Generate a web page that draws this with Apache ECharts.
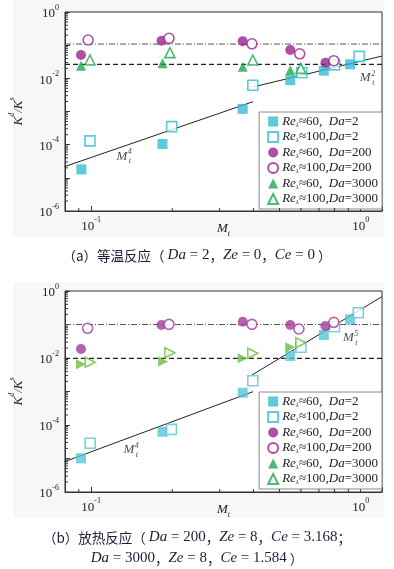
<!DOCTYPE html>
<html>
<head>
<meta charset="utf-8">
<script src="https://cdn.jsdelivr.net/npm/echarts@6/dist/echarts.min.js"></script>
<style>
  html, body { margin: 0; padding: 0; background: #fff; }
  #chart { width: 394px; height: 569px; }
</style>
</head>
<body>
<div id="chart"></div>
<script>
// ---- data: [M_t, K^d/K^s] ----
// (a) isothermal
const isoRe60Da2 = [[0.092, 1.8e-5], [0.184, 1.05e-4], [0.365, 1.2e-3], [0.548, 8.8e-3], [0.73, 1.7e-2], [0.914, 2.65e-2]];
const isoRe100Da2 = [[0.099, 1.3e-4], [0.199, 3.5e-4], [0.398, 6.2e-3], [0.605, 1.48e-2], [0.8, 2.55e-2], [0.987, 4.6e-2]];
const isoRe60Da200 = [[0.0917, 0.0506], [0.1825, 0.136], [0.365, 0.132], [0.548, 0.0715], [0.74, 0.0296]];
const isoRe100Da200 = [[0.0975, 0.143], [0.1945, 0.161], [0.395, 0.11], [0.594, 0.055], [0.795, 0.034]];
const isoRe60Da3000 = [[0.0917, 0.024], [0.184, 0.0283], [0.365, 0.0225], [0.548, 0.0175]];
const isoRe100Da3000 = [[0.099, 0.0357], [0.196, 0.0594], [0.398, 0.0357], [0.6, 0.02]];
const isoDashDot = [[0.08, 0.108], [1.2, 0.108]];
const isoDashed = [[0.08, 0.0265], [1.2, 0.0265]];
const isoFitM4 = [[0.0796, 2.17e-5], [0.399, 1.98e-3]];
const isoFitM2 = [[0.399, 5.5e-3], [1.2, 0.047]];

// (b) exothermic
const exoRe60Da2 = [[0.0917, 1.01e-5], [0.184, 6.3e-5], [0.365, 9.2e-4], [0.548, 0.0115], [0.73, 0.0486], [0.914, 0.1426]];
const exoRe100Da2 = [[0.0992, 2.84e-5], [0.1986, 7.4e-5], [0.398, 2.1e-3], [0.6, 0.0209], [0.8, 0.086], [0.98, 0.225]];
const exoRe60Da200 = [[0.0917, 0.0186], [0.1825, 0.0966], [0.365, 0.1215], [0.548, 0.0966], [0.74, 0.09]];
const exoRe100Da200 = [[0.097, 0.0769], [0.1945, 0.101], [0.395, 0.101], [0.59, 0.0734], [0.795, 0.116]];
const exoRe60Da3000 = [[0.0917, 0.0065], [0.185, 0.0078], [0.365, 0.0098], [0.548, 0.0209]];
const exoRe100Da3000 = [[0.0992, 0.0075], [0.196, 0.0144], [0.398, 0.0138], [0.6, 0.0286]];
const exoDashDot = [[0.08, 0.1], [1.2, 0.1]];
const exoDashed = [[0.08, 0.0098], [1.2, 0.0098]];
const exoFitM4 = [[0.0796, 8e-6], [0.399, 9.9e-4]];
const exoFitM5 = [[0.395, 3.1e-3], [1.2, 0.68]];

// slope annotations: [x, y, exponent]
const isoNotes = [[0.13, 4.3e-5, '4'], [1.04, 0.0102, '2']];
const exoNotes = [[0.138, 1.8e-5, '4'], [0.9, 0.0395, '5']];

const seriesNames = ['r60d2', 'r100d2', 'r60d200', 'r100d200', 'r60d3000', 'r100d3000'];
const legendRe = ['≈60,  ', '≈100,', '≈60,  ', '≈100,', '≈60,  ', '≈100,'];
const legendDa = ['=2', '=2', '=200', '=200', '=3000', '=3000'];

// axis furniture
const xMinorTicks = [0.09, 0.2, 0.3, 0.4, 0.5, 0.6, 0.7, 0.8, 0.9];
const minorMantissa = [2, 3, 4, 5, 6, 7, 8, 9];
const yDecades = [1e-6, 1e-5, 1e-4, 1e-3, 1e-2, 1e-1];

const SERIF = "'Liberation Serif', 'DejaVu Serif', serif";
const CJK = "'Noto Sans CJK SC', sans-serif";
const INK = '#222';

const supRich = {
  b: { fontFamily: SERIF, fontSize: 13, color: INK, lineHeight: 17, verticalAlign: 'bottom' },
  s: { fontFamily: SERIF, fontSize: 8, color: INK, lineHeight: 8, verticalAlign: 'top' }
};

function decadeLabel(v, evenOnly) {
  const e = Math.round(Math.log10(v));
  if (Math.abs(Math.log10(v) - e) > 1e-6) return '';
  if (evenOnly && e % 2 !== 0) return '';
  return '{b|10}{s|' + e + '}';
}

function makeAxes(gi) {
  const x = {
    type: 'log', logBase: 10, gridIndex: gi, min: 0.08, max: 1.2,
    axisLine: { lineStyle: { color: '#333', width: 1 } },
    axisTick: { inside: true, length: 5, lineStyle: { color: '#333' } },
    splitLine: { show: false },
    axisLabel: { interval: 0, margin: 5, formatter: (v) => decadeLabel(v, false), rich: supRich },
    name: '{m|M}{t|t}', nameLocation: 'middle', nameGap: 11, nameMoveOverlap: false,
    nameTextStyle: {
      rich: {
        m: { fontFamily: SERIF, fontStyle: 'italic', fontSize: 13, color: INK, lineHeight: 16, verticalAlign: 'top' },
        t: { fontFamily: SERIF, fontStyle: 'italic', fontSize: 8, color: INK, lineHeight: 8, verticalAlign: 'bottom' }
      }
    }
  };
  const y = {
    type: 'log', logBase: 10, gridIndex: gi, min: 1e-6, max: 1,
    axisLine: { lineStyle: { color: '#333', width: 1 } },
    axisTick: { inside: true, length: 5, lineStyle: { color: '#333' } },
    splitLine: { show: false },
    axisLabel: { interval: 0, margin: 6, formatter: (v) => decadeLabel(v, true), rich: supRich },
    name: '{k|K}{s|d}{k|/K}{s|s}', nameLocation: 'middle', nameGap: 40, nameRotate: 90,
    nameMoveOverlap: false,
    nameTextStyle: {
      rich: {
        k: { fontFamily: SERIF, fontStyle: 'italic', fontSize: 13, color: INK, lineHeight: 17, verticalAlign: 'bottom' },
        s: { fontFamily: SERIF, fontStyle: 'italic', fontSize: 8, color: INK, lineHeight: 8, verticalAlign: 'top' }
      }
    }
  };
  return [x, y];
}

function scatter(gi, name, data, symbol, color, hollow, rotate) {
  return {
    type: 'scatter', name: name, xAxisIndex: gi, yAxisIndex: gi, data: data,
    symbol: symbol, symbolSize: 10, symbolRotate: rotate || 0, z: 10,
    itemStyle: hollow
      ? { color: '#fff', borderColor: color, borderWidth: 1.6 }
      : { color: color }
  };
}

function refLine(gi, data, type, color, width) {
  return {
    type: 'line', xAxisIndex: gi, yAxisIndex: gi, data: data, symbol: 'none',
    silent: true, z: 3, lineStyle: { color: color, width: width, type: type }
  };
}

function minorTicks(gi, data, alongX) {
  return {
    type: 'custom', xAxisIndex: gi, yAxisIndex: gi, data: data, silent: true, z: 6,
    renderItem: function (params, api) {
      const p = api.coord([api.value(0), api.value(1)]);
      const q = alongX ? [p[0], p[1] - 3] : [p[0] + 3, p[1]];
      return {
        type: 'line',
        shape: { x1: p[0], y1: p[1], x2: q[0], y2: q[1] },
        style: { stroke: '#333', lineWidth: 1 }
      };
    }
  };
}

function notes(gi, list) {
  const data = [];
  list.forEach((n) => {
    data.push({ value: [n[0], n[1]], label: { formatter: '{m|M}', offset: [0, 0] } });
    data.push({ value: [n[0], n[1]], label: { formatter: '{s|' + n[2] + '}\n{s|t}', offset: [8, 0] } });
  });
  return {
    type: 'scatter', xAxisIndex: gi, yAxisIndex: gi, data: data, symbolSize: 0,
    silent: true, z: 8,
    label: {
      show: true, position: 'inside',
      rich: {
        m: { fontFamily: SERIF, fontStyle: 'italic', fontSize: 13, color: INK },
        s: { fontFamily: SERIF, fontStyle: 'italic', fontSize: 8, color: INK, lineHeight: 9 }
      }
    }
  };
}

function legendFor(top) {
  return {
    data: seriesNames, orient: 'vertical', right: 12, top: top,
    itemWidth: 10, itemHeight: 10, itemGap: 2, symbolRotate: 0,
    padding: [3, 4, 3, 8], backgroundColor: '#fff', borderColor: '#888', borderWidth: 1,
    selectedMode: false,
    formatter: (name) => {
      const i = seriesNames.indexOf(name);
      return '{i|Re}{l|λ}{n|' + legendRe[i] + '}{i|Da}{n|' + legendDa[i] + '}';
    },
    textStyle: {
      padding: [0, 0, 0, -1],
      rich: {
        i: { fontFamily: SERIF, fontStyle: 'italic', fontSize: 13, color: INK, lineHeight: 14 },
        l: { fontFamily: SERIF, fontStyle: 'italic', fontSize: 7, color: INK, lineHeight: 7, verticalAlign: 'bottom' },
        n: { fontFamily: SERIF, fontSize: 13, color: INK, lineHeight: 14 }
      }
    }
  };
}

const CAP = '#1d1d3a';
const capRich = {
  c: { fontFamily: CJK, fontSize: 13.5, fontWeight: 'normal', color: CAP },
  i: { fontFamily: SERIF, fontStyle: 'italic', fontSize: 15, fontWeight: 'normal', color: CAP },
  n: { fontFamily: SERIF, fontSize: 15, fontWeight: 'normal', color: CAP }
};
const capStyle = { fontWeight: 'normal', rich: capRich };

const axesA = makeAxes(0);
const axesB = makeAxes(1);
const ticksY = [];
yDecades.forEach((d) => minorMantissa.forEach((m) => ticksY.push([0.08, m * d])));
const ticksX = xMinorTicks.map((v) => [v, 1e-6]);

const CYAN = '#35bdd2', PURPLE = '#98248f', GREEN = '#1ea84b';
const CYAN_B = '#58c5d6', PURPLE_B = '#a53a9b', GREEN_B = '#6cbd3e';

const chart = echarts.init(document.getElementById('chart'));
chart.setOption({
  animation: false,
  backgroundColor: '#fff',
  graphic: [
    { type: 'rect', z: -10, shape: { x: 13, y: 0, width: 371, height: 237 }, style: { fill: '#f7f7f7' } },
    { type: 'rect', z: -10, shape: { x: 13, y: 282, width: 371, height: 236 }, style: { fill: '#f7f7f7' } }
  ],
  title: [
    {
      left: 'center', top: 243, textStyle: capStyle,
      text: '{c|（a）等温反应（ }{i|Da}{n| = 2}{c|，}{i|Ze}{n| = 0}{c|，}{i|Ce}{n| = 0}{c| ）}'
    },
    {
      left: 'center', top: 525, textStyle: capStyle,
      text: '{c|（b）放热反应（ }{i|Da}{n| = 200}{c|，}{i|Ze}{n| = 8}{c|，}{i|Ce}{n| = 3.168}{c|；}'
    },
    {
      left: 'center', top: 546, textStyle: capStyle,
      text: '{i|Da}{n| = 3000}{c|，}{i|Ze}{n| = 8}{c|，}{i|Ce}{n| = 1.584}{c| ）}'
    }
  ],
  grid: [
    { left: 60, top: 12, width: 322, height: 199, show: true, backgroundColor: '#fff', borderColor: '#333', borderWidth: 1 },
    { left: 60, top: 291, width: 322, height: 201, show: true, backgroundColor: '#fff', borderColor: '#333', borderWidth: 1 }
  ],
  legend: [legendFor(112), legendFor(392)],
  xAxis: [axesA[0], axesB[0]],
  yAxis: [axesA[1], axesB[1]],
  series: [
    refLine(0, isoDashDot, [6, 2, 1, 2], '#555', 1),
    refLine(0, isoDashed, [5, 3], '#222', 1.2),
    refLine(0, isoFitM4, 'solid', '#222', 1),
    refLine(0, isoFitM2, 'solid', '#222', 1),
    scatter(0, seriesNames[0], isoRe60Da2, 'rect', CYAN, false),
    scatter(0, seriesNames[1], isoRe100Da2, 'rect', CYAN, true),
    scatter(0, seriesNames[2], isoRe60Da200, 'circle', PURPLE, false),
    scatter(0, seriesNames[3], isoRe100Da200, 'circle', PURPLE, true),
    scatter(0, seriesNames[4], isoRe60Da3000, 'triangle', GREEN, false),
    scatter(0, seriesNames[5], isoRe100Da3000, 'triangle', GREEN, true),
    notes(0, isoNotes),
    minorTicks(0, ticksY, false),
    minorTicks(0, ticksX, true),

    refLine(1, exoDashDot, [6, 2, 1, 2], '#555', 1),
    refLine(1, exoDashed, [5, 3], '#222', 1.2),
    refLine(1, exoFitM4, 'solid', '#222', 1),
    refLine(1, exoFitM5, 'solid', '#222', 1),
    scatter(1, seriesNames[0], exoRe60Da2, 'rect', CYAN_B, false),
    scatter(1, seriesNames[1], exoRe100Da2, 'rect', CYAN_B, true),
    scatter(1, seriesNames[2], exoRe60Da200, 'circle', PURPLE_B, false),
    scatter(1, seriesNames[3], exoRe100Da200, 'circle', PURPLE_B, true),
    scatter(1, seriesNames[4], exoRe60Da3000, 'triangle', GREEN_B, false, -90),
    scatter(1, seriesNames[5], exoRe100Da3000, 'triangle', GREEN_B, true, -90),
    notes(1, exoNotes),
    minorTicks(1, ticksY, false),
    minorTicks(1, ticksX, true)
  ]
});
</script>
</body>
</html>
